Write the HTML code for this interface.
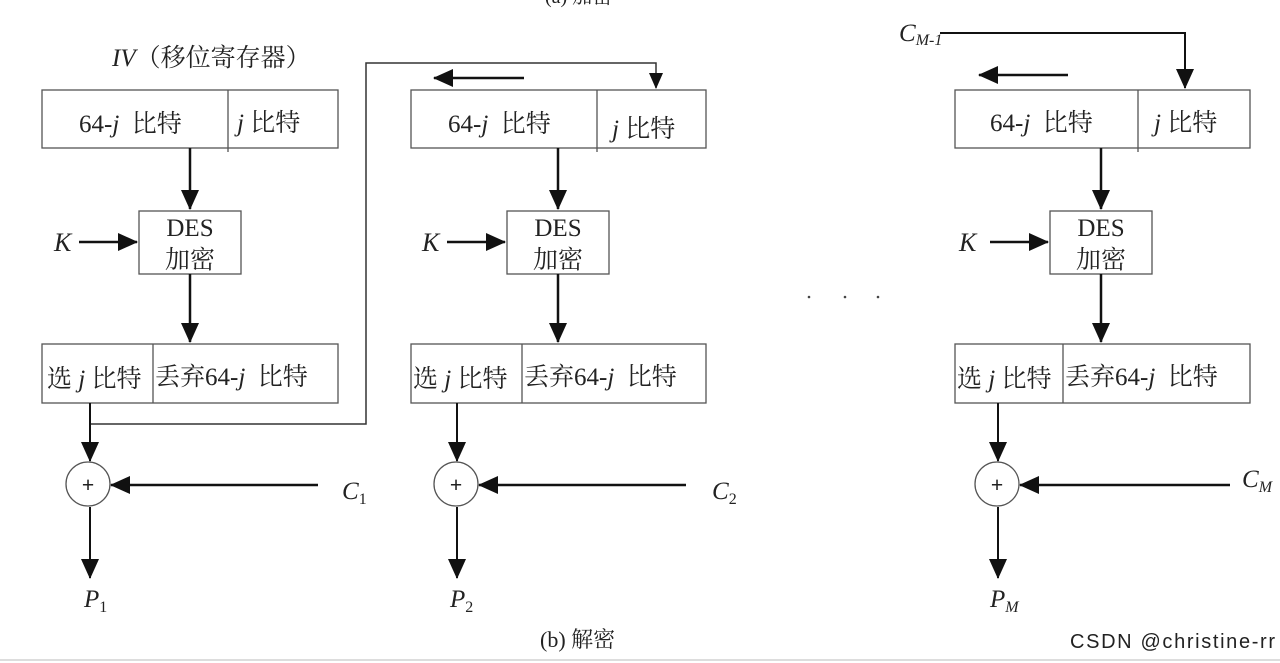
<!DOCTYPE html>
<html><head><meta charset="utf-8"><style>
html,body{margin:0;padding:0;background:#fff;}
svg{display:block;}
text{font-family:"Liberation Serif","Noto Serif CJK SC",serif;fill:#222;}
</style></head><body>
<svg width="1280" height="663" viewBox="0 0 1280 663" xmlns="http://www.w3.org/2000/svg">
<defs>
<marker id="ah" markerWidth="16" markerHeight="14" refX="15" refY="7" orient="auto" markerUnits="userSpaceOnUse">
<path d="M0,0 L16,7 L0,14 Z" fill="#111"/></marker>
<marker id="ahb" markerWidth="20" markerHeight="18" refX="19" refY="9" orient="auto" markerUnits="userSpaceOnUse">
<path d="M0,0 L20,9 L0,18 Z" fill="#111"/></marker>
</defs>
<text x="545" y="3" font-size="20" fill="#777">(a) 加密</text>

<polyline points="90,424 366,424 366,63 656,63 656,88" fill="none" stroke="#333" stroke-width="1.5" marker-end="url(#ah)"/>
<line x1="524" y1="78" x2="434" y2="78" stroke="#111" stroke-width="2.5" marker-end="url(#ahb)"/>
<polyline points="940,33 1185,33 1185,88" fill="none" stroke="#111" stroke-width="2" marker-end="url(#ahb)"/>
<line x1="1068" y1="75" x2="979" y2="75" stroke="#111" stroke-width="2.5" marker-end="url(#ahb)"/>
<text x="899" y="41" font-size="25" font-style="italic">C<tspan font-size="16" dy="4">M-1</tspan></text>

<text x="112" y="66" font-size="25"><tspan font-style="italic">IV</tspan>（移位寄存器）</text>

<!-- Column 1 -->
<g stroke="#555" stroke-width="1.3" fill="none">
<rect x="42" y="90" width="296" height="58"/><line x1="228" y1="90" x2="228" y2="152"/>
<rect x="139" y="211" width="102" height="63"/>
<rect x="42" y="344" width="296" height="59"/><line x1="153" y1="344" x2="153" y2="403"/>
<circle cx="88" cy="484" r="22"/>
</g>
<g stroke="#111" stroke-width="2.5" fill="none">
<line x1="190" y1="148" x2="190" y2="209" marker-end="url(#ahb)"/>
<line x1="79" y1="242" x2="137" y2="242" marker-end="url(#ahb)"/>
<line x1="190" y1="274" x2="190" y2="342" marker-end="url(#ahb)"/>
<line x1="90" y1="403" x2="90" y2="461" marker-end="url(#ahb)" stroke-width="2"/>
<line x1="318" y1="485" x2="111" y2="485" marker-end="url(#ahb)"/>
<line x1="90" y1="507" x2="90" y2="578" marker-end="url(#ahb)" stroke-width="2"/>
</g>
<text x="79" y="132" font-size="25" xml:space="preserve">64-<tspan font-style="italic">j</tspan>  比特</text>
<text x="237" y="131" font-size="25"><tspan font-style="italic">j</tspan> 比特</text>
<text x="54" y="251" font-size="26" font-style="italic">K</text>
<text x="190" y="236" font-size="25" text-anchor="middle">DES</text>
<text x="190" y="268" font-size="25" text-anchor="middle">加密</text>
<text x="47" y="387" font-size="25">选 <tspan font-style="italic">j</tspan> 比特</text>
<text x="155" y="385" font-size="25" xml:space="preserve">丢弃64-<tspan font-style="italic">j</tspan>  比特</text>
<text x="88" y="492" font-size="22" font-weight="bold" text-anchor="middle">+</text>
<text x="342" y="499" font-size="25" font-style="italic">C<tspan font-size="16" font-style="normal" dy="5">1</tspan></text>
<text x="84" y="607" font-size="25" font-style="italic">P<tspan font-size="16" font-style="normal" dy="5">1</tspan></text>

<!-- Column 2 -->
<g stroke="#555" stroke-width="1.3" fill="none">
<rect x="411" y="90" width="295" height="58"/><line x1="597" y1="90" x2="597" y2="152"/>
<rect x="507" y="211" width="102" height="63"/>
<rect x="411" y="344" width="295" height="59"/><line x1="522" y1="344" x2="522" y2="403"/>
<circle cx="456" cy="484" r="22"/>
</g>
<g stroke="#111" stroke-width="2.5" fill="none">
<line x1="558" y1="148" x2="558" y2="209" marker-end="url(#ahb)"/>
<line x1="447" y1="242" x2="505" y2="242" marker-end="url(#ahb)"/>
<line x1="558" y1="274" x2="558" y2="342" marker-end="url(#ahb)"/>
<line x1="457" y1="403" x2="457" y2="461" marker-end="url(#ahb)" stroke-width="2"/>
<line x1="686" y1="485" x2="479" y2="485" marker-end="url(#ahb)"/>
<line x1="457" y1="507" x2="457" y2="578" marker-end="url(#ahb)" stroke-width="2"/>
</g>
<text x="448" y="132" font-size="25" xml:space="preserve">64-<tspan font-style="italic">j</tspan>  比特</text>
<text x="612" y="137" font-size="25"><tspan font-style="italic">j</tspan> 比特</text>
<text x="422" y="251" font-size="26" font-style="italic">K</text>
<text x="558" y="236" font-size="25" text-anchor="middle">DES</text>
<text x="558" y="268" font-size="25" text-anchor="middle">加密</text>
<text x="413" y="387" font-size="25">选 <tspan font-style="italic">j</tspan> 比特</text>
<text x="524" y="385" font-size="25" xml:space="preserve">丢弃64-<tspan font-style="italic">j</tspan>  比特</text>
<text x="456" y="492" font-size="22" font-weight="bold" text-anchor="middle">+</text>
<text x="712" y="499" font-size="25" font-style="italic">C<tspan font-size="16" font-style="normal" dy="5">2</tspan></text>
<text x="450" y="607" font-size="25" font-style="italic">P<tspan font-size="16" font-style="normal" dy="5">2</tspan></text>

<circle cx="809" cy="297" r="1.3" fill="#444"/>
<circle cx="845" cy="297" r="1.3" fill="#444"/>
<circle cx="878" cy="297" r="1.3" fill="#444"/>

<!-- Column 3 -->
<g stroke="#555" stroke-width="1.3" fill="none">
<rect x="955" y="90" width="295" height="58"/><line x1="1138" y1="90" x2="1138" y2="152"/>
<rect x="1050" y="211" width="102" height="63"/>
<rect x="955" y="344" width="295" height="59"/><line x1="1063" y1="344" x2="1063" y2="403"/>
<circle cx="997" cy="484" r="22"/>
</g>
<g stroke="#111" stroke-width="2.5" fill="none">
<line x1="1101" y1="148" x2="1101" y2="209" marker-end="url(#ahb)"/>
<line x1="990" y1="242" x2="1048" y2="242" marker-end="url(#ahb)"/>
<line x1="1101" y1="274" x2="1101" y2="342" marker-end="url(#ahb)"/>
<line x1="998" y1="403" x2="998" y2="461" marker-end="url(#ahb)" stroke-width="2"/>
<line x1="1230" y1="485" x2="1020" y2="485" marker-end="url(#ahb)"/>
<line x1="998" y1="507" x2="998" y2="578" marker-end="url(#ahb)" stroke-width="2"/>
</g>
<text x="990" y="131" font-size="25" xml:space="preserve">64-<tspan font-style="italic">j</tspan>  比特</text>
<text x="1154" y="131" font-size="25"><tspan font-style="italic">j</tspan> 比特</text>
<text x="959" y="251" font-size="26" font-style="italic">K</text>
<text x="1101" y="236" font-size="25" text-anchor="middle">DES</text>
<text x="1101" y="268" font-size="25" text-anchor="middle">加密</text>
<text x="957" y="387" font-size="25">选 <tspan font-style="italic">j</tspan> 比特</text>
<text x="1065" y="385" font-size="25" xml:space="preserve">丢弃64-<tspan font-style="italic">j</tspan>  比特</text>
<text x="997" y="492" font-size="22" font-weight="bold" text-anchor="middle">+</text>
<text x="1242" y="487" font-size="25" font-style="italic">C<tspan font-size="16" dy="5">M</tspan></text>
<text x="990" y="607" font-size="25" font-style="italic">P<tspan font-size="16" dy="5">M</tspan></text>

<text x="540" y="647" font-size="22">(b) 解密</text>
<text x="1070" y="648" font-size="20" fill="#c4c4c4" textLength="205" style="font-family:'Liberation Sans',sans-serif">CSDN @christine-rr</text>
<line x1="0" y1="660" x2="1280" y2="660" stroke="#ddd" stroke-width="2"/>
</svg>
</body></html>
